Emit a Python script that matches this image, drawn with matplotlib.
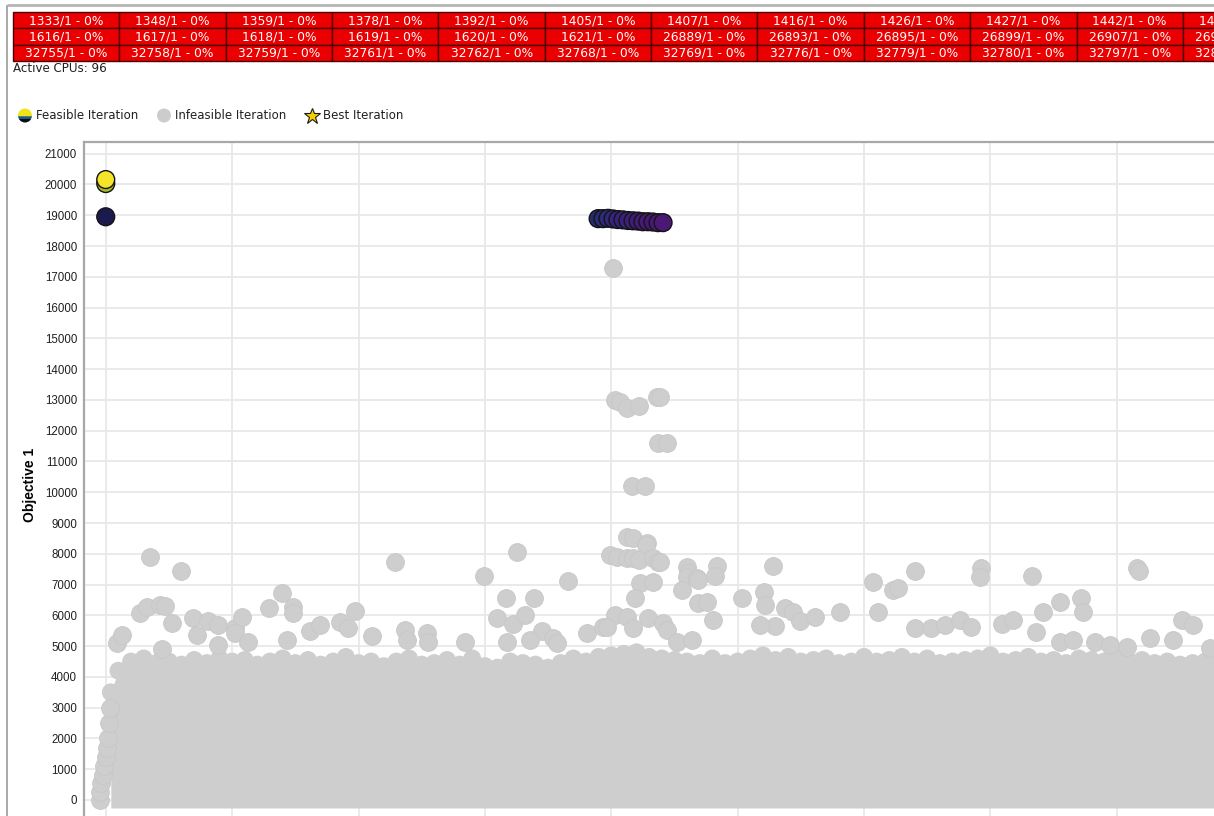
import matplotlib
matplotlib.use("Agg")
import matplotlib.pyplot as plt
from matplotlib.patches import Rectangle, Circle

# ---------------------------------------------------------------- data
# CPU status strip: process ids per row and their load
cpu_row1 = ["1333", "1348", "1359", "1378", "1392", "1405", "1407", "1416", "1426", "1427", "1442", "1449"]
cpu_row2 = ["1616", "1617", "1618", "1619", "1620", "1621", "26889", "26893", "26895", "26899", "26907", "26911"]
cpu_row3 = ["32755", "32758", "32759", "32761", "32762", "32768", "32769", "32776", "32779", "32780", "32797", "32801"]
cpu_load = "0%"
active_cpus = 96

# upper edge of the dense block of infeasible iterations
band_x = [20, 50, 100, 150, 200, 250, 300, 350, 400, 450, 500, 550, 600, 650, 700,
          750, 800, 850, 900, 950, 1000, 1050, 1100, 1150, 1200, 1250, 1300, 1350, 1400, 1450,
          1500, 1550, 1600, 1650, 1700, 1750, 1800, 1850, 1900, 1950, 2000, 2050, 2100, 2150,
          2200, 2250, 2300, 2350, 2400, 2450, 2500, 2550, 2600, 2650, 2700, 2750, 2800, 2850,
          2900, 2950, 3000, 3050, 3100, 3150, 3200, 3250, 3300, 3350, 3400, 3450, 3500, 3550,
          3600, 3650, 3700, 3750, 3800, 3850, 3900, 3950, 4000, 4050, 4100, 4150, 4200, 4250,
          4300, 4350, 4400, 4450]
band_top = [3500, 4200, 4500, 4600, 4450, 4500, 4400, 4550, 4450, 4600, 4500,
            4550, 4400, 4500, 4600, 4450, 4550, 4400, 4500, 4650, 4450, 4500, 4350, 4500, 4600,
            4400, 4450, 4550, 4400, 4600, 4350, 4300, 4500, 4450, 4400, 4300, 4450, 4600, 4500,
            4650, 4700, 4750, 4800, 4650, 4600, 4550, 4500, 4450, 4600, 4450, 4500, 4600, 4700,
            4550, 4650, 4500, 4550, 4600, 4450, 4500, 4650, 4500, 4550, 4650, 4500, 4600, 4450,
            4500, 4550, 4600, 4700, 4500, 4550, 4650, 4500, 4550, 4450, 4600, 4550, 4500, 4600,
            4500, 4550, 4450, 4500, 4400, 4450, 4500, 4400, 4500]

# infeasible iterations outside the block
infeasible_x = [-22, -22, -18, -12, -5, 0, 4, 8, 12, 15,
                45, 64, 136, 163, 215, 235, 262, 223, 345, 361, 405, 444, 444, 512, 512, 539, 563,
                646, 717, 741, 741, 175, 298, 698, 808, 848, 927, 958, 986, 1053, 1144, 1184,
                1192, 1271, 1275, 1421,
                1627, 1496, 1829, 1584, 1694, 1548, 1611, 1659, 1726, 1678, 1588, 1904, 1967,
                1769, 1785,
                2062, 2086, 2141, 2137, 1995, 2023, 2062, 2086, 2109, 2165, 2185, 2193, 2299,
                2303, 2299, 2339, 2113, 2165, 2094, 2280, 2015, 2062, 2086, 1983, 2145, 2205,
                2221, 2260, 2319, 2343, 2343,
                2015, 2034, 2062, 2109, 2181, 2193, 2185, 2221, 2082, 2133, 2007,
                2418, 2410, 2379, 2402, 2517, 2640, 2604, 2608, 2687, 2719, 2647, 2588, 2746,
                2806, 2905, 3035, 3055, 3114, 3134, 3201, 3201, 3265, 3320, 3379, 3423, 3462,
                3458, 3545, 3589, 3664, 3680, 3708, 3775, 3858, 3866, 3775, 3827, 3913, 3973,
                4040, 4080, 4088, 4131, 4222, 4258, 4301, 4368]
infeasible_y = [0, 250, 550, 800, 1100, 1400, 1700, 2000, 2500, 3000,
                5100, 5360, 6080, 6270, 6340, 6300, 5750, 4910, 5900, 5350, 5800, 5690, 5040, 5590,
                5430, 5950, 5140, 6240, 5200, 6270, 6080, 7900, 7450, 6730, 5500, 5690, 5790,
                5590, 6140, 5330, 7740, 5530, 5200, 5430, 5140, 5140,
                8060, 7280, 7120, 6570, 6570, 5900, 5720, 6010, 5490, 5200, 5140, 5430, 5620,
                5270, 5100,
                8550, 8520, 8360, 8290, 7970, 7900, 7870, 7870, 7800, 7870, 7740, 7740, 7580,
                7380, 7250, 7220, 7060, 7090, 6570, 6830, 6010, 5950, 5590, 5620, 5920, 5750,
                5530, 5140, 5200, 6400, 7150,
                13000, 12940, 12740, 12810, 13100, 13100, 11600, 11600, 10210, 10210, 17300,
                7600, 7280, 6440, 5850, 6570, 7600, 6760, 6340, 6240, 6110, 5660, 5690, 5820,
                5950, 6110, 7090, 6110, 6830, 6900, 7450, 5590, 5590, 5690, 5850, 5620, 7540,
                7250, 5720, 5850, 7280, 5460, 6110, 6440, 6570, 6110, 5140, 5200, 5140, 5040,
                4970, 7540, 7450, 5270, 5200, 5850, 5690, 4940]

# feasible iterations
feasible_x = [0, 0, 0,
              1948, 1967, 1987, 2007, 2026, 2046, 2066, 2086, 2106, 2125, 2145, 2165, 2185, 2205]
feasible_y = [18950, 20030, 20160,
              18890, 18890, 18900, 18880, 18860, 18850, 18830, 18820, 18810, 18790, 18790,
              18780, 18760, 18760]
feasible_colors = ["#1a1a4e", "#a9b92a", "#f5e42a",
                   "#262a6e", "#2a2c78", "#2e2a7c", "#32287e", "#35257e", "#38227d", "#3b207c",
                   "#3e1e7b", "#411c7a", "#431b79", "#451a78", "#471977", "#491876", "#4b1875"]

y_ticks = list(range(0, 21001, 1000))
x_grid = list(range(0, 4501, 500))

# ---------------------------------------------------------------- figure
W, H = 1214, 816
fig = plt.figure(figsize=(W / 100, H / 100), dpi=100)
fig.patch.set_facecolor("white")

ax = fig.add_axes([84 / W, 1 - 830 / H, 1166 / W, 688 / H])
ax.set_xlim(-86, 4527)
ax.set_ylim(-975, 21380)
ax.set_xticks(x_grid)
ax.set_yticks(y_ticks)
ax.set_yticklabels([str(v) for v in y_ticks], fontsize=8.3, family="Liberation Sans", color="#202020")
ax.tick_params(axis="x", length=0, labelbottom=False)
ax.tick_params(axis="y", length=0, pad=5)
ax.grid(True, color="#e8e8e8", lw=1.3)
ax.set_axisbelow(True)
for side in ("left", "top"):
    ax.spines[side].set_color("#a8a8a8")
    ax.spines[side].set_linewidth(1.6)
for side in ("right", "bottom"):
    ax.spines[side].set_visible(False)

gray = "#cecece"
size = 165
ax.fill_between(band_x, -260, band_top, color=gray, lw=0, zorder=2)
ax.scatter(band_x, band_top, s=size, c=gray, edgecolors="none", zorder=2)
ax.scatter(infeasible_x, infeasible_y, s=size, c=gray, edgecolors="#c7c7c7", linewidths=0.6, zorder=2)
ax.scatter(feasible_x, feasible_y, s=size, c=feasible_colors, edgecolors="#141414",
           linewidths=1.0, zorder=4)

ax.set_ylabel("Objective 1", fontsize=10, fontweight="bold", family="Liberation Sans")
ax.yaxis.set_label_coords((37 - 84) / 1166, 0.501)

# ---------------------------------------------------------------- overlay in pixel units
ov = fig.add_axes([0, 0, 1, 1], zorder=5)
ov.set_xlim(0, W)
ov.set_ylim(H, 0)
ov.axis("off")
ov.patch.set_alpha(0)

# window frame
ov.plot([7, 7], [5, H], color="#a9a9a9", lw=1.4, solid_capstyle="butt")
ov.plot([7, W], [5, 5], color="#b5b5b5", lw=2.0, solid_capstyle="butt")

# CPU table
col_w, row_h = 106.35, 16.3
x0, y0 = 13, 12
for r, row in enumerate([cpu_row1, cpu_row2, cpu_row3]):
    for c, pid in enumerate(row):
        cx = x0 + c * col_w
        cy = y0 + r * row_h
        ov.add_patch(Rectangle((cx, cy), col_w, row_h, facecolor="#ea0000",
                               edgecolor="#4a0000", lw=1.0))
        ov.text(cx + col_w / 2, cy + row_h / 2 + 0.5, f"{pid}/1 - {cpu_load}", color="white",
                fontsize=8.8, ha="center", va="center", family="DejaVu Sans")

ov.text(13, 69, f"Active CPUs: {active_cpus}", fontsize=8.6, va="center", ha="left",
        color="#202020", family="DejaVu Sans")

# legend
icon = Circle((25, 115.5), 7, transform=ov.transData, facecolor="none", edgecolor="none")
ov.add_patch(icon)
for top, bot, col in [(108, 115.5, "#f2e21c"), (115.5, 117.2, "#3c9a3a"),
                      (117.2, 119.2, "#1f4fa8"), (119.2, 124, "#0a0a0a")]:
    rect = Rectangle((17, top), 16, bot - top, facecolor=col, edgecolor="none")
    ov.add_patch(rect)
    rect.set_clip_path(icon)
ov.text(36, 115.5, "Feasible Iteration", fontsize=8.5, va="center", color="#202020", family="DejaVu Sans")
ov.add_patch(Circle((164, 115.5), 7, facecolor="#cccccc", edgecolor="none"))
ov.text(175, 115.5, "Infeasible Iteration", fontsize=8.5, va="center", color="#202020", family="DejaVu Sans")
ov.plot([312], [115.5], marker="*", ms=12, mfc="#f5d000", mec="#1a1a1a", mew=0.8)
ov.text(323, 115.5, "Best Iteration", fontsize=8.5, va="center", color="#202020", family="DejaVu Sans")

fig.savefig("out.png", dpi=100)
